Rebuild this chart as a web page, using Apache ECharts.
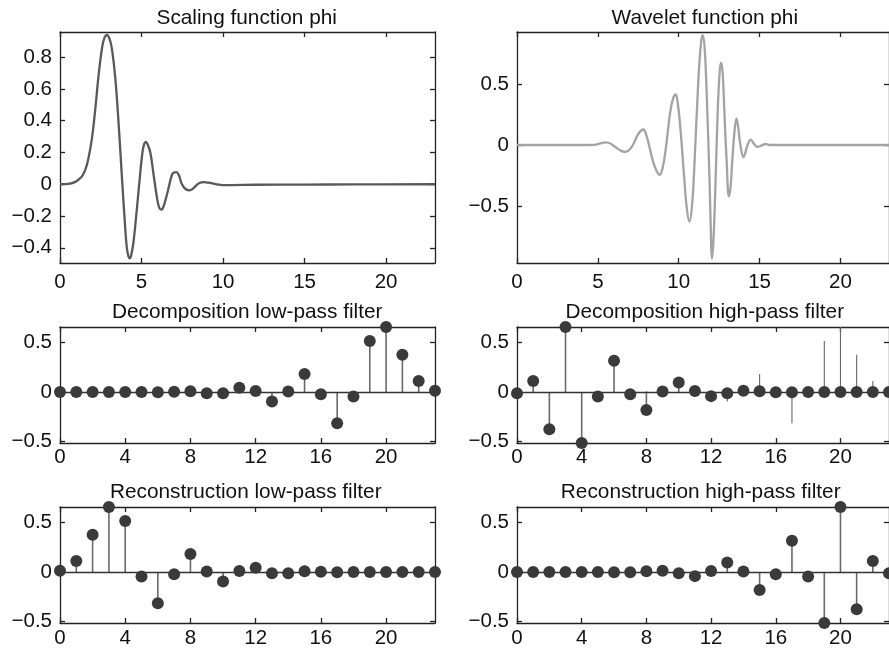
<!DOCTYPE html>
<html><head><meta charset="utf-8">
<script src="https://cdn.jsdelivr.net/npm/echarts@6/dist/echarts.min.js"></script>
<style>html,body{margin:0;padding:0;background:#fff}#c{width:889px;height:652px}</style>
</head><body><div id="c"></div>
<script>
// ---------- data ----------
const filterIndex = [0,1,2,3,4,5,6,7,8,9,10,11,12,13,14,15,16,17,18,19,20,21,22,23];
const decLow  = [0,0,0,0,0,0,-0.002,0.002,0.007,-0.013,-0.012,0.042,0.011,-0.096,0.005,0.182,-0.024,-0.316,-0.045,0.516,0.657,0.377,0.11,0.013];
const decHigh = [-0.013,0.11,-0.377,0.657,-0.516,-0.045,0.316,-0.024,-0.182,0.005,0.096,0.011,-0.042,-0.012,0.013,0.007,-0.002,-0.002,0,0,0,0,0,0];
const recLow  = [0.013,0.11,0.377,0.657,0.516,-0.045,-0.316,-0.024,0.182,0.005,-0.096,0.011,0.042,-0.012,-0.013,0.007,0.002,-0.002,0,0,0,0,0,0];
const recHigh = [0,0,0,0,0,0,-0.002,-0.002,0.007,0.013,-0.012,-0.042,0.011,0.096,0.005,-0.182,-0.024,0.316,-0.045,-0.516,0.657,-0.377,0.11,-0.013];

const scalingPhi = [[0,0],[0.5,0.002],[0.94,0.015],[1.2,0.035],[1.35,0.05],[1.55,0.09],[1.75,0.166],[1.96,0.29],[2.17,0.48],[2.37,0.69],[2.58,0.86],[2.72,0.92],[2.88,0.94],[3.04,0.915],[3.19,0.85],[3.39,0.67],[3.6,0.375],[3.8,0.04],[4.0,-0.275],[4.1,-0.40],[4.2,-0.455],[4.27,-0.466],[4.36,-0.45],[4.5,-0.37],[4.72,-0.15],[4.93,0.08],[5.07,0.21],[5.17,0.255],[5.27,0.266],[5.38,0.25],[5.54,0.2],[5.74,0.06],[5.95,-0.086],[6.08,-0.145],[6.21,-0.16],[6.35,-0.14],[6.56,-0.065],[6.87,0.06],[7.0,0.074],[7.13,0.077],[7.28,0.06],[7.48,0.0],[7.7,-0.03],[7.95,-0.038],[8.15,-0.028],[8.3,-0.013],[8.55,0.008],[8.83,0.013],[9.1,0.01],[9.42,0.004],[9.7,-0.002],[9.94,-0.005],[10.5,-0.005],[12,-0.003],[15,-0.002],[18,-0.001],[23,0]];

const waveletPsi = [[0,0],[4.5,0],[4.8,0.001],[5.1,0.012],[5.49,0.022],[5.8,0.01],[6.1,-0.019],[6.45,-0.048],[6.72,-0.057],[6.98,-0.035],[7.23,0.016],[7.5,0.09],[7.8,0.127],[8.02,0.07],[8.25,-0.05],[8.5,-0.17],[8.82,-0.244],[9.0,-0.19],[9.18,-0.05],[9.48,0.276],[9.65,0.38],[9.81,0.414],[9.95,0.33],[10.1,0.14],[10.34,-0.27],[10.5,-0.52],[10.66,-0.628],[10.82,-0.5],[10.96,-0.19],[11.22,0.55],[11.38,0.84],[11.48,0.90],[11.6,0.80],[11.73,0.41],[11.9,-0.27],[12.0,-0.78],[12.05,-0.93],[12.14,-0.8],[12.25,-0.41],[12.41,0.28],[12.53,0.6],[12.61,0.675],[12.71,0.6],[12.82,0.28],[12.96,-0.13],[13.1,-0.42],[13.2,-0.35],[13.31,-0.13],[13.43,0.084],[13.57,0.218],[13.67,0.15],[13.78,0.03],[14.0,-0.10],[14.1,-0.07],[14.23,-0.01],[14.45,0.044],[14.65,0.01],[14.86,-0.016],[15.1,-0.005],[15.38,0.008],[15.63,0],[23,0]];

const phiXTicks = [0,5,10,15,20];
const phiYTicks = [-0.4,-0.2,0,0.2,0.4,0.6,0.8];
const psiYTicks = [-0.5,0,0.5];
const filterXTicks = [0,4,8,12,16,20];
const filterYTicks = [-0.5,0,0.5];
const titles = ['Scaling function phi','Wavelet function phi','Decomposition low-pass filter','Decomposition high-pass filter','Reconstruction low-pass filter','Reconstruction high-pass filter'];

// ---------- layout / style ----------
const FONT = '"Liberation Sans", Arial, Helvetica, sans-serif';
const FRAME = '#222';
const grids = [
  {left:60,  top:32,  width:375, height:231},
  {left:517, top:32,  width:375, height:231},
  {left:60,  top:327, width:375, height:116},
  {left:517, top:327, width:375, height:116},
  {left:60,  top:507, width:375, height:116},
  {left:517, top:507, width:375, height:116}
];
const yRanges = [[-0.496,0.959],[-0.967,0.926],[-0.516,0.657],[-0.516,0.657],[-0.516,0.657],[-0.516,0.657]];
const xTickSets = [phiXTicks, phiXTicks, filterXTicks, filterXTicks, filterXTicks, filterXTicks];
const yTickSets = [phiYTicks, psiYTicks, filterYTicks, filterYTicks, filterYTicks, filterYTicks];
const xLabelMargin = [9, 9, 4, 4, 5, 5];
const titlePos = [[246.7,18],[704.8,18],[247.2,312],[704.8,312],[245.8,492],[700.7,492]];

const minus = v => String(v).replace('-', '\u2212');

const xAxis = [], yAxis = [];
grids.forEach((g, gi) => {
  ['bottom','top'].forEach(pos => {
    xAxis.push({
      type:'value', gridIndex:gi, position:pos, min:0, max:23,
      axisLine:{show:true, onZero:false, lineStyle:{color:FRAME, width:1.3}},
      axisTick:{show:true, inside:true, length:5, customValues:xTickSets[gi], lineStyle:{color:FRAME, width:1.3}},
      axisLabel:{show:pos==='bottom', customValues:xTickSets[gi], margin:xLabelMargin[gi], color:'#111', fontSize:20.5, fontFamily:FONT, formatter:minus},
      splitLine:{show:false}
    });
  });
  ['left','right'].forEach(pos => {
    yAxis.push({
      type:'value', gridIndex:gi, position:pos, min:yRanges[gi][0], max:yRanges[gi][1],
      axisLine:{show:true, onZero:false, lineStyle:{color:FRAME, width:1.3}},
      axisTick:{show:true, inside:true, length:5, customValues:yTickSets[gi], lineStyle:{color:FRAME, width:1.3}},
      axisLabel:{show:pos==='left', customValues:yTickSets[gi], margin:8, color:'#111', fontSize:20.5, fontFamily:FONT, formatter:minus},
      splitLine:{show:false}
    });
  });
});

function stems(gi, vals, color, width, z) {
  return {
    type:'custom', xAxisIndex:2*gi, yAxisIndex:2*gi, z:z, clip:false, silent:true,
    data: filterIndex.map((x,i)=>[x, vals[i]]),
    renderItem: (params, api) => {
      const p0 = api.coord([api.value(0), 0]);
      const p1 = api.coord([api.value(0), api.value(1)]);
      return {type:'line', shape:{x1:p0[0], y1:p0[1], x2:p1[0], y2:p1[1]}, style:{stroke:color, lineWidth:width}};
    }
  };
}
function markers(gi, vals) {
  return {
    type:'scatter', xAxisIndex:2*gi, yAxisIndex:2*gi, z:10, clip:false, silent:true,
    symbol:'circle', symbolSize:12, itemStyle:{color:'#3a3a3a', opacity:1},
    data: filterIndex.map((x,i)=>[x, vals[i]]),
    markLine:{silent:true, symbol:'none', label:{show:false}, animation:false,
      lineStyle:{color:'#333', width:1.4, type:'solid'}, data:[{yAxis:0}]}
  };
}

const series = [
  {type:'line', xAxisIndex:0, yAxisIndex:0, data:scalingPhi, smooth:0.4, showSymbol:false, symbol:'none',
   lineStyle:{color:'#595959', width:2.3}, silent:true},
  {type:'line', xAxisIndex:2, yAxisIndex:2, data:waveletPsi, smooth:0.4, showSymbol:false, symbol:'none',
   lineStyle:{color:'#a3a3a3', width:2.3}, silent:true}
];
const filterSets = [decLow, decHigh, recLow, recHigh];
filterSets.forEach((vals, k) => {
  const gi = k + 2;
  series.push(stems(gi, vals, '#696969', 1.6, 3));
  series.push(markers(gi, vals));
});
// thin extra stems visible in the decomposition high-pass panel of the reference
series.push(stems(3, decLow, '#666', 1.1, 2));

const graphic = titles.map((t, i) => ({
  type:'text', x:titlePos[i][0], y:titlePos[i][1], silent:true,
  style:{text:t, fill:'#111', font:'20.8px ' + FONT, textAlign:'center', textVerticalAlign:'middle'}
}));

const chart = echarts.init(document.getElementById('c'), null, {renderer:'canvas'});
chart.setOption({animation:false, backgroundColor:'#fff', grid:grids, xAxis, yAxis, series, graphic});
</script></body></html>
